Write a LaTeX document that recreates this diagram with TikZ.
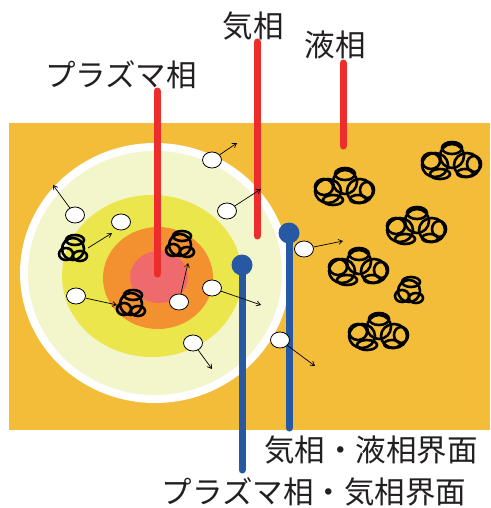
\documentclass[tikz,border=0pt]{standalone}
\usepackage{fontspec}
\newfontfamily\jp{Noto Sans CJK JP}
\usetikzlibrary{shapes.geometric,arrows.meta}
\definecolor{bgorange}{RGB}{243,188,57}
\definecolor{pale}{RGB}{243,245,202}
\definecolor{yell}{RGB}{234,230,76}
\definecolor{orng}{RGB}{243,145,48}
\definecolor{pink}{RGB}{239,106,108}
\definecolor{lred}{RGB}{237,45,43}
\definecolor{lblue}{RGB}{38,88,164}
\definecolor{txt}{RGB}{35,31,32}
\begin{document}
\begin{tikzpicture}[x=1pt,y=-1pt,
  jlabel/.style={font=\jp\fontsize{30.5}{31}\selectfont, text=txt, inner sep=0pt},
  redline/.style={draw=lred, line width=7pt, line cap=round},
  blueline/.style={draw=lblue, line width=7pt, line cap=round},
  dot/.style={circle, fill=lblue, minimum size=21pt, inner sep=0pt},
  mol/.style={ellipse, draw=black, fill=white, line width=0.8pt, minimum width=19pt, minimum height=16pt, inner sep=0pt},
  arr/.style={-{Straight Barb[length=4pt,width=5pt]}, line width=0.7pt},
  blob/.style={draw=black, line width=2.6pt},
  cluster/.pic={
    \draw[blob] (0,0) circle[radius=11];
    \draw[blob] (2,-9) ellipse[x radius=9, y radius=5];
    \draw[blob] (-7,5) ellipse[x radius=7, y radius=6];
    \draw[blob] (7,7) ellipse[x radius=7, y radius=5];
  },
  dimer/.pic={
    \draw[blob] (-15,4) ellipse[x radius=13, y radius=12];
    \draw[blob] (-19,0) ellipse[x radius=9, y radius=8];
    \draw[blob] (-10,13) ellipse[x radius=10, y radius=5];
    \draw[blob] (2,-5) circle[radius=12];
    \draw[blob] (2,-13) ellipse[x radius=10, y radius=6];
    \draw[blob] (17,4) ellipse[x radius=13, y radius=12];
    \draw[blob] (24,3) ellipse[x radius=7, y radius=8];
    \draw[blob] (15,12) ellipse[x radius=8, y radius=4];
  }
]
\useasboundingbox (0,0) rectangle (490,508);
\fill[white] (0,0) rectangle (490,508);
\fill[bgorange] (9,123) rectangle (490,430);

% plasma ball: layered regions
\fill[white] (155,273) ellipse[x radius=135, y radius=130];
\fill[pale]  (155,273) ellipse[x radius=127, y radius=122];
\fill[yell]  (152,276) ellipse[x radius=90, y radius=81];
\fill[orng]  (158,278) ellipse[x radius=55, y radius=51];
\fill[pink]  (159,277) ellipse[x radius=29, y radius=26];

% liquid molecules
\pic (c1) at (73,249) {cluster};
\pic (c2) at (180,245) {cluster};
\pic (c3) at (131,304) {cluster};
\pic (c4) at (409,291) {cluster};
\pic (d1) at (343,187) {dimer};
\pic (d2) at (450,161) {dimer};
\pic (d3) at (415,226) {dimer};
\pic (d4) at (357,267) {dimer};
\pic (d5) at (377,332) {dimer};

% phase labels with red leaders
\node[jlabel] (plasma) at (121,75) {プラズマ相};
\node[jlabel] (gas) at (253,26) {気相};
\node[jlabel] (liquid) at (335,45) {液相};
\coordinate (plasma-a) at (157,91);
\coordinate (plasma-b) at (157,274);
\coordinate (gas-a) at (257,42);
\coordinate (gas-b) at (257,236);
\coordinate (liquid-a) at (343,63);
\coordinate (liquid-b) at (343,146);
\draw[redline] (plasma-a) -- (plasma-b);
\draw[redline] (gas-a) -- (gas-b);
\draw[redline] (liquid-a) -- (liquid-b);

% interface labels with blue leaders
\node[jlabel] (gl) at (371,450) {気相・液相界面};
\node[jlabel] (pg) at (314,492) {プラズマ相・気相界面};
\node[dot] (pg-dot) at (242,265) {};
\node[dot] (gl-dot) at (289,233) {};
\coordinate (pg-end) at (242,470);
\coordinate (gl-end) at (289,428);
\draw[blueline] (pg-dot.center) -- (pg-end);
\draw[blueline] (gl-dot.center) -- (gl-end);

% gas molecules and their motion
\node[mol] (m1) at (212,160) {};
\node[mol] (m2) at (75,215) {};
\node[mol] (m3) at (121,222) {};
\node[mol] (m4) at (227,211) {};
\node[mol] (m5) at (76,296) {};
\node[mol] (m6) at (179,302) {};
\node[mol] (m7) at (212,288) {};
\node[mol] (m8) at (193,343) {};
\node[mol] (m9) at (280,340) {};
\node[mol] (m10) at (304,249) {};
\coordinate (t1) at (237,143);
\coordinate (t2) at (53,185);
\coordinate (t4) at (261,189);
\coordinate (t5) at (117,305);
\coordinate (t6) at (188,263);
\coordinate (t7) at (261,305);
\coordinate (t8) at (212,369);
\coordinate (t9) at (315,366);
\coordinate (t10) at (343,241);
\coordinate (s1) at (88,248);
\coordinate (t3) at (112,233);
\draw[arr] (m1) -- (t1);
\draw[arr] (m2) -- (t2);
\draw[arr] (s1) -- (t3);
\draw[arr] (m4) -- (t4);
\draw[arr] (m5) -- (t5);
\draw[arr] (m6) -- (t6);
\draw[arr] (m7) -- (t7);
\draw[arr] (m8) -- (t8);
\draw[arr] (m9) -- (t9);
\draw[arr] (m10) -- (t10);
\end{tikzpicture}
\end{document}
